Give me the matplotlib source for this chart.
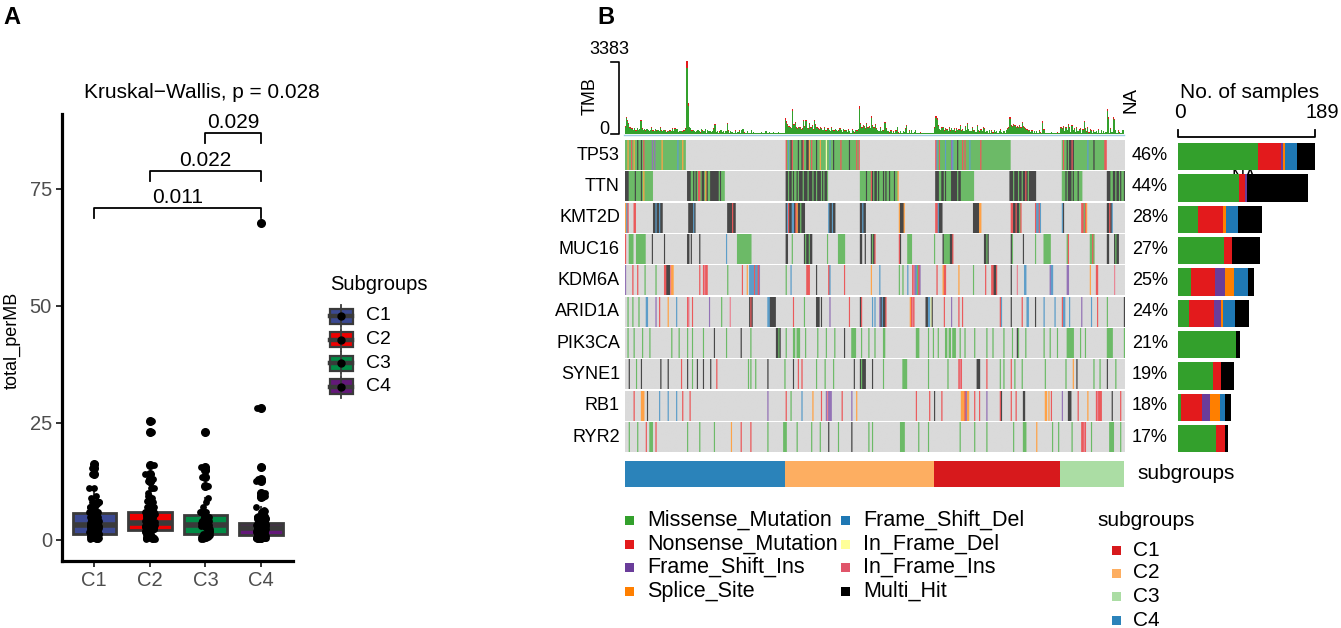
import numpy as np
import matplotlib.pyplot as plt
from matplotlib.colors import to_rgb
from matplotlib.patches import Rectangle

plt.rcParams['font.family'] = ['Liberation Sans', 'DejaVu Sans']

W, H = 1341, 628

# ---------------- data ----------------
# panel A (box plot) groups and colours
box_groups = ['C1', 'C2', 'C3', 'C4']
box_colors = ['#3B4992', '#EE0000', '#008B45', '#631879']
pairs = [(1, 4), (2, 4), (3, 4)]
pair_p = ['0.011', '0.022', '0.029']
kw_label = 'Kruskal\u2212Wallis, p = 0.028'

# panel B: sample order of the oncoplot (C4, C2, C1, C3)
onco_groups = ['C4', 'C2', 'C1', 'C3']
anno_colors = {'C1': '#D7191C', 'C2': '#FDAE61', 'C3': '#ABDDA4', 'C4': '#2B83BA'}

# TMB (mutation count) per sample, in oncoplot order inside each subgroup
tmb_c4 = [350, 780, 650, 470, 300, 250, 240, 180, 260, 150,
          260, 170, 230, 625, 250, 180, 210, 150, 220, 160,
          130, 170, 300, 150, 120, 230, 140, 160, 120, 310,
          150, 120, 180, 140, 90, 100, 130, 150, 110, 240,
          120, 250, 220, 230, 80, 120, 130, 100, 140, 150,
          240, 3383, 1410, 320, 260, 150, 180, 110, 60, 120,
          170, 130, 50, 215, 150, 120, 220, 40, 160, 110,
          130, 90, 120, 250, 460, 70, 120, 40, 100, 160,
          60, 130, 35, 120, 500, 140, 30, 120, 90, 25,
          40, 140, 30, 60, 150, 20, 180, 230, 50, 35,
          30, 130, 20, 45, 160, 25, 60, 15, 30, 40,
          20, 35, 80, 25, 10, 45, 130, 20, 35, 60,
          15, 30, 70, 20, 40, 25, 60, 10, 30, 20,
          15, 40]
tmb_c2 = [700, 560, 420, 350, 300, 260, 1150, 420, 550, 280,
          250, 320, 280, 200, 250, 630, 350, 630, 270, 250,
          470, 280, 380, 200, 650, 450, 290, 240, 200, 280,
          250, 180, 300, 150, 140, 250, 160, 120, 280, 170,
          150, 230, 180, 120, 140, 250, 170, 90, 220, 150,
          180, 60, 200, 130, 40, 190, 120, 50, 170, 140,
          230, 1275, 500, 300, 400, 350, 250, 470, 300, 350,
          270, 800, 400, 300, 450, 250, 160, 110, 300, 130,
          160, 150, 550, 250, 130, 110, 50, 150, 40, 100,
          30, 140, 320, 50, 20, 130, 35, 120, 60, 250,
          400, 45, 150, 30, 160, 25, 55, 170, 20, 40,
          15, 50, 30, 10, 40, 25, 5, 35, 20, 45,
          10, 30, 20]
tmb_c1 = [300, 810, 700, 400, 230, 180, 280, 320, 150, 250,
          200, 120, 300, 150, 260, 180, 240, 100, 250, 160,
          190, 400, 140, 200, 120, 350, 160, 470, 210, 130,
          110, 300, 150, 180, 90, 400, 170, 100, 200, 120,
          300, 250, 60, 130, 40, 160, 30, 140, 50, 180,
          70, 130, 45, 120, 200, 60, 35, 110, 20, 160,
          250, 300, 765, 400, 350, 450, 380, 300, 350, 280,
          400, 300, 550, 350, 300, 250, 200, 150, 180, 60,
          140, 40, 130, 25, 120, 30, 150, 50, 20, 560,
          200, 30, 15, 45, 10, 35, 55, 20, 40, 25,
          15, 50, 30, 10]
tmb_c3 = [300, 250, 350, 130, 300, 180, 450, 300, 90, 400,
          160, 250, 60, 300, 120, 200, 250, 40, 200, 575,
          250, 100, 300, 50, 200, 140, 30, 150, 60, 120,
          20, 200, 45, 180, 10, 130, 35, 70, 1150, 775,
          30, 250, 55, 750, 675, 160, 25, 150, 50, 15,
          40, 170]
tmb_max = 3383
exome_mb = 50  # total_perMB = TMB / 50 Mb

genes = ['TP53', 'TTN', 'KMT2D', 'MUC16', 'KDM6A', 'ARID1A', 'PIK3CA', 'SYNE1', 'RB1', 'RYR2']
pct = ['46%', '44%', '28%', '27%', '25%', '24%', '21%', '19%', '18%', '17%']

mut_classes = ['Missense_Mutation', 'Nonsense_Mutation', 'Frame_Shift_Ins', 'Splice_Site',
               'Frame_Shift_Del', 'In_Frame_Del', 'In_Frame_Ins', 'Multi_Hit']
mut_codes = ['g', 'r', 'p', 'o', 'b', 'y', 'm', 'k']
mut_colors = ['#33A02C', '#E31A1C', '#6A3D9A', '#FF7F00', '#1F78B4', '#FFFF99', '#E0556A', '#000000']

# No. of samples per gene and class (right bar plot)
n_missense = [111, 85, 28, 64, 18, 16, 80, 49, 5, 53]
n_nonsense = [31, 8, 35, 11, 34, 34, 0, 10, 29, 12]
n_fs_ins = [3, 2, 0, 0, 13, 10, 0, 0, 10, 0]
n_splice = [3, 0, 4, 0, 12, 3, 0, 0, 14, 0]
n_fs_del = [16, 0, 16, 0, 20, 16, 0, 0, 7, 0]
n_if_del = [0, 0, 0, 0, 0, 0, 0, 0, 0, 0]
n_if_ins = [0, 0, 0, 0, 0, 0, 0, 0, 0, 0]
n_multi = [25, 85, 34, 38, 8, 20, 6, 19, 9, 5]
bar_max = 189

# oncoplot cells: (first sample, codes) ; '.' = not mutated
tp53_muts = [(0, 'ggoggrgogg' 'kggkgrgggg' 'ggpgpggggg' 'oggggggggg' 'gggbgggogg'),
             (132, 'rgbgkrgggg' 'kggkrggkko' 'grgggkggog' 'gggyggbggk' 'gggggrgggg' 'ggkgggggrg' 'r'),
             (255, 'rbgrggggbg' 'gggpbgggkg' 'ggrgrgggbg' 'gggggggrgg' 'gggggggggg' 'gggggggggg' 'gg'),
             (359, 'grggkgkkrk' 'gggggggggg' 'gbggggkggg' 'gggggrr')]
ttn_muts = [(0, 'kkkgggggkg' 'gggkgogggg' 'ggg'),
            (51, 'kkkggkgkgr' 'rgkkgokggk' 'kkkkkkgkggg'),
            (132, 'kkgkkgkggk' 'gkkkgkkkgk' 'kkgkkgkkkg' 'kgkkg'),
            (193, 'gggggkgggr' 'kgkkgkgggk' 'gkggkgggkggo'),
            (255, 'kkkggkkgkg' 'gggkkkkkgk' 'kggggggggggg'),
            (316, 'kkkgkkkgkk' 'gkkrkgkkkkkk'),
            (359, 'gggkgkkkgk' 'gggkggg'),
            (396, 'kkkggkkgkk' 'gkggk')]
kmt2d_muts = [(0, 'obr'), (7, 'rr'), (23, 'kkbkkbkk'), (52, 'kkkkbk'), (84, 'kkkkrkk'),
              (132, 'kbrkkbbkrokkgkkk'), (167, 'bkkbkk'), (193, 'kkbkk'), (225, 'okkko'),
              (255, 'rrbkkk'), (286, 'kkkkkoo'), (317, 'rrkkrkkgr'), (337, 'rbbrb'),
              (359, 'bk'), (375, 'rrgro'), (396, 'kkrkb')]
muc16_muts = [(0, 'r'), (3, 'gggg'), (9, 'gggggggg'), (22, 'k'), (32, 'k'), (51, 'kk'), (54, 'k'),
              (61, 'k'), (83, 'b'), (92, 'gggggggggggg'),
              (132, 'kk'), (137, 'g'), (147, 'kgkkgkk'), (166, 'g'), (175, 'gggggg'), (193, 'kk'),
              (197, 'k'), (202, 'kgkr'), (225, 'rk'), (232, 'gggg'),
              (254, 'g'), (261, 'kgggggkkr'), (295, 'kkgk'),
              (317, 'kg'), (327, 'k'), (337, 'g'), (344, 'gggggg'), (363, 'gr'), (382, 'ggrg'),
              (396, 'kk'), (402, 'kgkk')]
kdm6a_muts = [(0, 'p'), (6, 'r'), (10, 'r'), (16, 'g'), (25, 'g'), (32, 'rrkkkmoo'), (61, 'r'),
              (64, 'rmrr'), (84, 'g'), (96, 'r'), (100, 'o.bbbbrbbrp'),
              (132, 'g...b'), (149, 'rrr'), (157, 'k'), (167, 'rb'), (180, 'r'), (202, 'o'), (209, 'b'),
              (225, 'g'), (228, 'g'), (232, 'b'), (236, 'rmpbgrp'),
              (256, 'r'), (261, 'orr'), (274, 'o'), (286, 'g'), (296, 'r'), (301, 'rrkkr'), (317, 'k'),
              (322, 'm'), (328, 'bb'), (349, 'pbb'),
              (363, 'pp'), (382, 'o'), (387, 'rr'), (402, 'm')]
arid1a_muts = [(2, 'g'), (6, 'g'), (11, 'g'), (17, 'bb'), (25, 'p'), (28, 'r'), (35, 'o'), (42, 'b'),
               (51, 'rm'), (55, 'r'), (69, 'p'), (79, 'g'), (86, 'm'), (102, 'krk'), (117, 'bbkkkkk'),
               (138, 'r'), (147, 'g'), (157, 'kkk.k'), (168, 'p'), (184, 'r'), (193, 'kr'), (203, 'b'),
               (205, 'b'), (209, 'pkbkkr'), (234, 'ormr'), (247, 'kkbbyk'),
               (262, 'r'), (268, 'p'), (274, 'r'), (277, 'r'), (308, 'rb'), (317, 'k'), (326, 'r'),
               (330, 'bb'), (337, 'k'), (344, 'b'), (353, 'b'),
               (359, 'rbb'), (365, 'b'), (375, 'p'), (383, 'b'), (388, 'r'), (396, 'g'), (410, 'k')]
pik3ca_muts = [(2, 'g'), (7, 'g'), (14, 'g'), (20, 'g'), (38, 'g'), (44, 'g'), (51, 'g'), (55, 'g'),
               (64, 'g'), (73, 'k'), (83, 'g'), (95, 'k'),
               (103, 'g'), (124, 'kkgk'), (132, 'g'), (138, 'gg.ggg'), (148, 'g'), (158, 'g'), (165, 'g'),
               (172, 'g'), (180, 'k'), (186, 'gggg'), (194, 'g'), (200, 'g'),
               (205, 'g'), (212, 'gg'), (239, 'ggg'), (249, 'g'), (253, 'g'), (257, 'g'),
               (263, 'gg.gg.ggg'), (275, 'g'), (279, 'g'), (287, 'g'), (297, 'g'), (302, 'g'),
               (311, 'g'), (318, 'g'), (322, 'kg'), (329, 'g'), (344, 'g'), (349, 'g'), (355, 'g'),
               (363, 'gggggg'), (374, 'g'), (378, 'g'), (396, 'ggggg'), (410, 'g')]
syne1_muts = [(3, 'k'), (9, 'g'), (13, 'k'), (29, 'k'), (35, 'k'), (46, 'r'), (51, 'k'), (55, 'g'),
              (59, 'k'), (64, 'k'), (70, 'k'), (75, 'r'), (101, 'g'),
              (103, 'g'), (107, 'g'), (117, 'k'), (131, 'g'), (138, 'k'), (142, 'r'), (145, 'r'),
              (157, 'g'), (164, 'g'), (171, 'g'), (188, 'k'), (193, 'kgkkk'), (203, 'k'),
              (212, 'g'), (228, 'gggg'), (249, 'g'), (265, 'g'), (274, 'rmr'), (289, 'kkk'), (297, 'r'),
              (308, 'g'), (311, 'g'), (317, 'r'), (320, 'g'), (326, 'g'), (345, 'g'), (362, 'g'),
              (368, 'o'), (371, 'k'), (385, 'g'), (390, 'g'), (396, 'k'), (403, 'g')]
rb1_muts = [(7, 'r'), (13, 'ooo'), (18, 'k'), (28, 'b'), (35, 'b'), (42, 'b'), (47, 'r'), (53, 'r'),
            (117, 'p'), (132, 'r'), (136, 'g'), (145, 'b'), (154, 'o'), (161, 'r'), (165, 'pmppp'),
            (178, 'r'), (186, 'p'), (190, 'o'),
            (239, 'r'), (250, 'r'), (254, 'k'), (260, 'r'), (276, 'ooorpoo'), (287, 'r'), (291, 'r'),
            (297, 'p'), (308, 'rk'), (317, 'r'), (321, 'r'), (327, 'kk'), (345, 'oo.o'), (350, 'r'),
            (359, 'p'), (364, 'kkk'), (372, 'r'), (380, 'o'), (387, 'rmrrr'), (400, 'k'), (407, 'r')]
ryr2_muts = [(3, 'g'), (10, 'g'), (17, 'r'), (20, 'ggg'), (25, 'r'), (51, 'g'), (61, 'g'), (73, 'g'),
             (87, 'o'), (95, 'r'),
             (103, 'r'), (117, 'g'), (130, 'ggg'), (141, 'g'), (153, 'g'), (160, 'g'), (167, 'k'),
             (175, 'g'), (186, 'k'), (200, 'g'),
             (203, 'g'), (226, 'gggg'), (241, 'g'), (249, 'g'), (275, 'g'), (287, 'g'), (297, 'g'),
             (319, 'g'), (327, 'ggg'), (338, 'o'), (351, 'g'), (356, 'g'), (367, 'g'), (375, 'rrmr'),
             (383, 'g'), (398, 'gggg'), (407, 'g')]
gene_muts = [tp53_muts, ttn_muts, kmt2d_muts, muc16_muts, kdm6a_muts,
             arid1a_muts, pik3ca_muts, syne1_muts, rb1_muts, ryr2_muts]

# ---------------- figure ----------------
fig = plt.figure(figsize=(W / 100, H / 100), dpi=100)


def px_axes(x0, y0, x1, y1):
    return fig.add_axes([x0 / W, 1 - y1 / H, (x1 - x0) / W, (y1 - y0) / H])


# ===== panel A =====
groups_tmb = {'C1': tmb_c1, 'C2': tmb_c2, 'C3': tmb_c3, 'C4': tmb_c4}
box_vals = [np.array(groups_tmb[g]) / exome_mb for g in box_groups]

axa = px_axes(61.7, 114, 292.7, 561)
bp = axa.boxplot(box_vals, positions=[1, 2, 3, 4], widths=0.78, patch_artist=True, showcaps=False,
                 boxprops=dict(edgecolor='#3a3a3a', linewidth=2),
                 medianprops=dict(color='#3a3a3a', linewidth=4),
                 whiskerprops=dict(color='#3a3a3a', linewidth=1.5),
                 flierprops=dict(marker='o', markerfacecolor='black', markeredgecolor='black',
                                 markersize=5.5))
for patch, c in zip(bp['boxes'], box_colors):
    patch.set_facecolor(c)
for i, v in enumerate(box_vals):
    offs = ((np.arange(len(v)) * 0.618034) % 1.0 - 0.5) * 0.18
    axa.scatter(i + 1 + offs, v, s=24, color='black', zorder=3, linewidths=0)

for (x1, x2), p, yb in zip(pairs, pair_p, [70.9, 78.9, 86.9]):
    axa.plot([x1, x1, x2, x2], [yb - 2.2, yb, yb, yb - 2.2], color='black', lw=1.3, clip_on=False)
    axa.text((x1 + x2) / 2, yb + 0.2, p, ha='center', va='bottom', fontsize=15, clip_on=False)

axa.set_xlim(0.414, 4.57)
axa.set_ylim(-4.5, 91)
axa.set_xticks([1, 2, 3, 4], box_groups)
axa.set_yticks([0, 25, 50, 75])
axa.spines['top'].set_visible(False)
axa.spines['right'].set_visible(False)
axa.spines['left'].set_linewidth(2.3)
axa.spines['bottom'].set_linewidth(2.3)
axa.tick_params(length=4, width=1.4, color='#333333', labelcolor='#4d4d4d', labelsize=14.5, pad=3)

# ===== panel B: TMB bars =====
tmb = tmb_c4 + tmb_c2 + tmb_c1 + tmb_c3
N = len(tmb)
xs = np.arange(N) + 0.5
tmb_arr = np.array(tmb, dtype=float)
axt = px_axes(624.5, 61, 1123.6, 133.5)
axt.bar(xs, tmb_arr, width=1.0, color='#33A02C', linewidth=0)
axt.bar(xs, tmb_arr * 0.1, bottom=tmb_arr * 0.9, width=1.0, color='#E31A1C', linewidth=0)
axt.set_xlim(0, N)
axt.set_ylim(0, tmb_max)
axt.axis('off')

# ===== oncoplot matrix =====
axm = px_axes(624.5, 140, 1123.6, 453.5)
grey = np.array(to_rgb('#dadada'))
# thin 1-sample cells look washed out in the original raster
code_rgb = {c: 0.72 * np.array(to_rgb(col)) + 0.28 for c, col in zip(mut_codes, mut_colors)}
for gi, muts in enumerate(gene_muts):
    row = np.tile(grey, (1, N, 1))
    for start, codes in muts:
        for j, c in enumerate(codes):
            if c != '.':
                row[0, start + j] = code_rgb[c]
    axm.imshow(row, aspect='auto', extent=(0, N, gi + 0.952, gi), interpolation='antialiased')
axm.set_xlim(0, N)
axm.set_ylim(len(genes), 0)
axm.axis('off')

# subgroup annotation
axs = px_axes(624.5, 460.7, 1123.6, 487)
sizes = [len(tmb_c4), len(tmb_c2), len(tmb_c1), len(tmb_c3)]
left = 0
for g, n in zip(onco_groups, sizes):
    axs.barh(0.5, n, left=left, height=1.0, color=anno_colors[g], linewidth=0)
    left += n
axs.set_xlim(0, N)
axs.set_ylim(0, 1)
axs.axis('off')

# right bar plot
axb = px_axes(1177.8, 140, 1314.6, 453.5)
axb.text(92, 1.2, 'NA', ha='center', va='center', fontsize=13, zorder=0)
class_counts = [n_missense, n_nonsense, n_fs_ins, n_splice, n_fs_del, n_if_del, n_if_ins, n_multi]
ys = np.arange(len(genes)) + 0.53
lefts = np.zeros(len(genes))
for counts, col in zip(class_counts, mut_colors):
    axb.barh(ys, counts, left=lefts, height=0.87, color=col, linewidth=0, zorder=2)
    lefts += np.array(counts)
axb.set_xlim(0, bar_max)
axb.set_ylim(len(genes), 0)
axb.axis('off')

# ===== overlay for text and legends (pixel coordinates) =====
ov = fig.add_axes([0, 0, 1, 1], facecolor='none')
ov.set_xlim(0, W)
ov.set_ylim(H, 0)
ov.axis('off')

ov.text(3, 18, 'A', fontsize=17, fontweight='bold', va='center', ha='left')
ov.text(597, 18, 'B', fontsize=17, fontweight='bold', va='center', ha='left')

# panel A texts
ov.text(201.7, 93, kw_label, fontsize=15, ha='center', va='center')
ov.text(12, 340, 'total_perMB', fontsize=13, rotation=90, ha='center', va='center')
ov.text(330, 285, 'Subgroups', fontsize=14.5, ha='left', va='center')
for g, c, cy in zip(box_groups, box_colors, [316, 339.5, 363, 386.5]):
    ov.plot([341.5, 341.5], [cy - 11, cy + 11], color='#3a3a3a', lw=1.3)
    ov.add_patch(Rectangle((330, cy - 7.5), 23, 15, facecolor=c, edgecolor='#3a3a3a', lw=1.6))
    ov.plot([330.5, 352.5], [cy, cy], color='#3a3a3a', lw=3.2)
    ov.plot([341.5], [cy], 'o', color='black', ms=5)
    ov.text(366, cy, g, fontsize=14, ha='left', va='center')

# TMB axis
ov.plot([611, 619, 619, 611], [62, 62, 133.5, 133.5], color='black', lw=1.2)
ov.plot([624.5, 1123.6], [134.5, 134.5], color='#9ecae1', lw=1)
ov.text(629, 50, str(tmb_max), fontsize=13, ha='right', va='center')
ov.text(609, 129, '0', fontsize=13, ha='right', va='center')
ov.text(590, 96, 'TMB', fontsize=13, rotation=90, ha='center', va='center')
ov.text(1131, 100, 'NA', fontsize=13.5, rotation=90, ha='center', va='center')

# gene names and percentages
for i, (g, p) in enumerate(zip(genes, pct)):
    cy = 140 + 31.35 * (i + 0.48)
    ov.text(620, cy, g, fontsize=13, ha='right', va='center')
    ov.text(1132, cy, p, fontsize=13, ha='left', va='center')

# bar plot axis
ov.text(1249.5, 93, 'No. of samples', fontsize=15, ha='center', va='center')
ov.plot([1177.8, 1177.8, 1314.6, 1314.6], [130, 136.7, 136.7, 130], color='black', lw=1.3)
ov.text(1180, 112, '0', fontsize=15, ha='center', va='center')
ov.text(1339, 112, str(bar_max), fontsize=14.5, ha='right', va='center')

ov.text(1137.7, 473.5, 'subgroups', fontsize=15, ha='left', va='center')

# mutation class legend
leg_rows = [520, 544, 567.5, 591]
for k, (name, col) in enumerate(zip(mut_classes, mut_colors)):
    cx = 625 if k < 4 else 841.5
    cy = leg_rows[k % 4]
    ov.add_patch(Rectangle((cx, cy - 4.5), 9, 9, facecolor=col, edgecolor='none'))
    ov.text(cx + 22, cy, name, fontsize=15.5, ha='left', va='center')

# subgroup legend
ov.text(1097.6, 520, 'subgroups', fontsize=15, ha='left', va='center')
for g, cy in zip(['C1', 'C2', 'C3', 'C4'], [550, 573, 596.5, 620]):
    ov.add_patch(Rectangle((1112, cy - 4.5), 9, 9, facecolor=anno_colors[g], edgecolor='none'))
    ov.text(1133, cy, g, fontsize=15, ha='left', va='center')

fig.savefig('out.png', dpi=100)
